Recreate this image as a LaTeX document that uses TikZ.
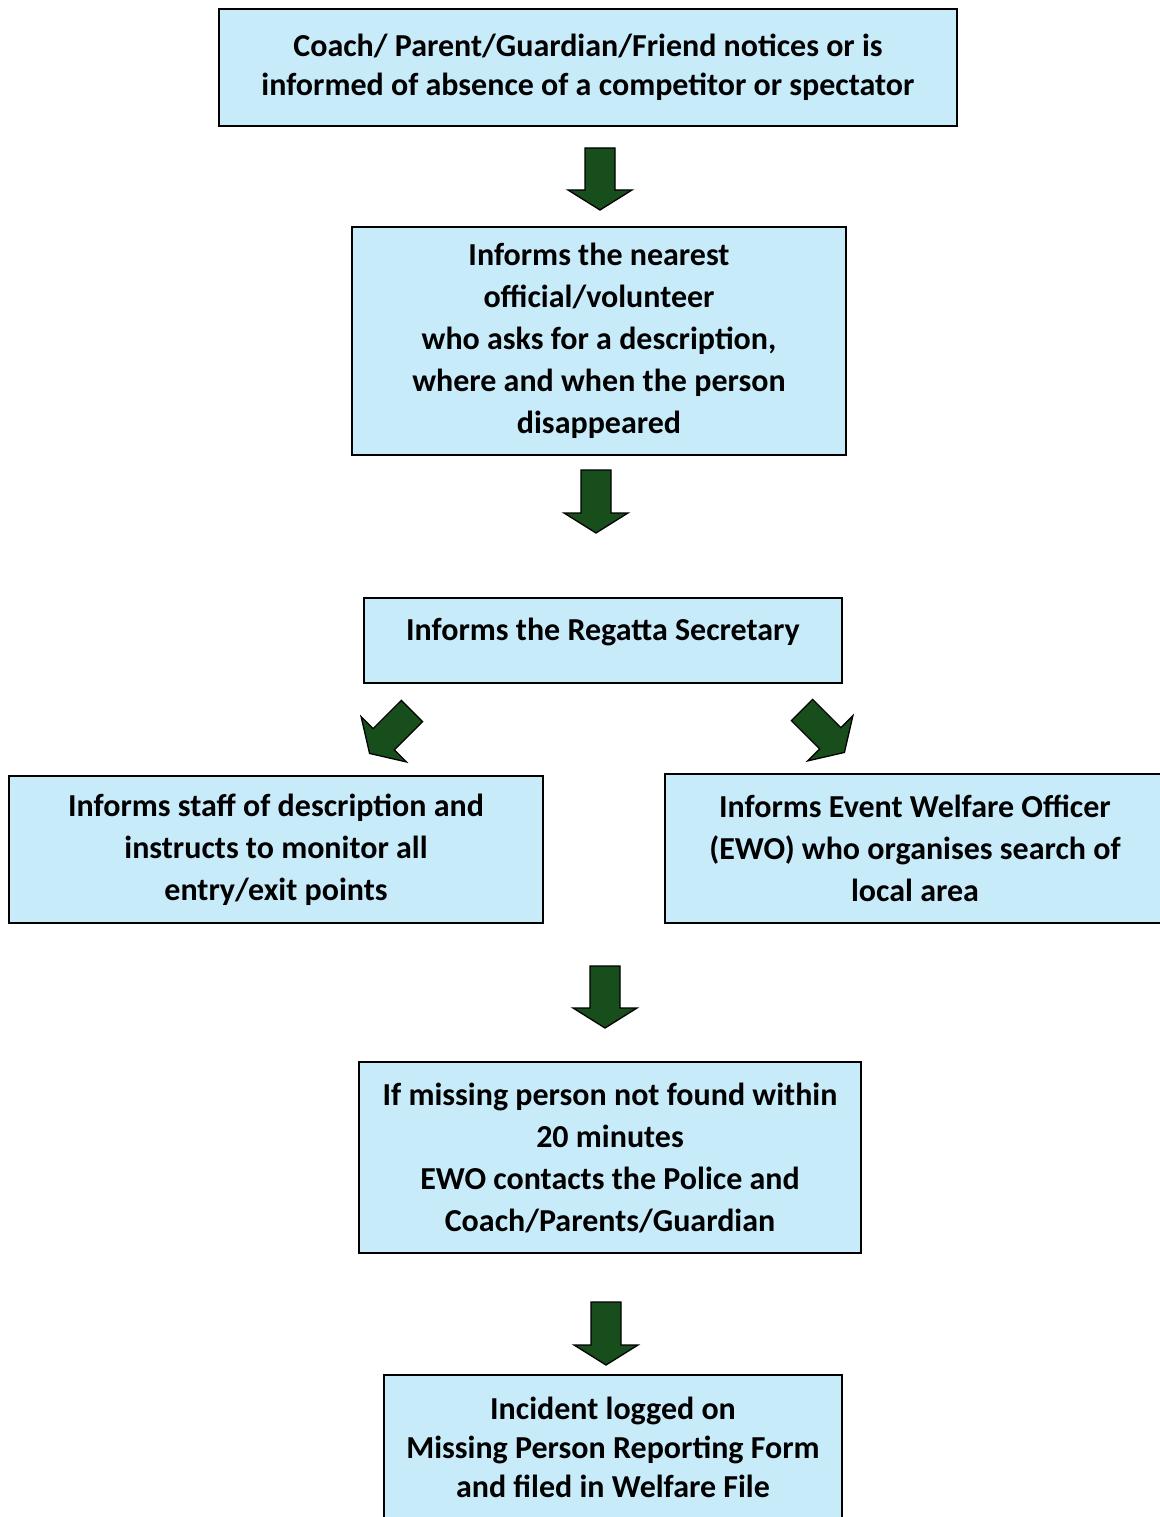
\documentclass[tikz,border=0pt]{standalone}
\usepackage{fontspec}
\setmainfont{Carlito}
\usepackage{xcolor}
\usetikzlibrary{positioning,calc}
\definecolor{boxblue}{RGB}{200,235,250}
\definecolor{arrowgreen}{RGB}{24,77,28}

% block arrow: position, rotation, shaft length
\newcommand{\blockarrow}[3]{%
	\begin{scope}[shift={(#1)},rotate=#2]
		\draw[arrowshape] (-15,0) -- (15,0) -- (15,#3) -- (32,#3) -- (0,#3+20) -- (-32,#3) -- (-15,#3) -- cycle;
	\end{scope}}

\begin{document}
\begin{tikzpicture}[
				x = 1pt, y = -1pt,
				stepbox/.style = {draw, line width = 1.6pt, fill = boxblue, align = center, inner sep = 0pt,
					font = \bfseries\fontsize{32}{42}\selectfont},
				arrowshape/.style = {draw, line width = 1.3pt, fill = arrowgreen, line join = miter}
				]
				\useasboundingbox (0,0) rectangle (1159,1517);
				
				\node [stepbox, minimum width = 738, minimum height = 117, font = \bfseries\fontsize{32}{39}\selectfont] (notice) at (588,67.5) {Coach/ Parent/Guardian/Friend notices or is\\informed of absence of a competitor or spectator};
				\node [stepbox, minimum width = 494, minimum height = 228] (official) at (599,341) {Informs the nearest\\official/volunteer\\who asks for a description,\\where and when the person\\disappeared};
				\node [stepbox, minimum width = 478, minimum height = 85, text depth = 22pt] (secretary) at (603,640.5) {Informs the Regatta Secretary};
				\node [stepbox, minimum width = 534, minimum height = 147] (staff) at (276,849.5) {Informs staff of description and\\instructs to monitor all\\entry/exit points};
				\node [stepbox, minimum width = 500, minimum height = 149] (welfare) at (915,848.5) {Informs Event Welfare Officer\\(EWO) who organises search of\\local area};
				\node [stepbox, minimum width = 502, minimum height = 191] (police) at (610,1157.5) {If missing person not found within\\20 minutes\\EWO contacts the Police and\\Coach/Parents/Guardian};
				\node [stepbox, minimum width = 458, minimum height = 145, font = \bfseries\fontsize{32}{39}\selectfont] (logged) at (613,1447.5) {Incident logged on\\Missing Person Reporting Form\\and filed in Welfare File};
				
				\blockarrow{600,148}{0}{42}
				\blockarrow{596,470}{0}{43}
				\blockarrow{412,711}{-45}{40}
				\blockarrow{802,710}{45}{40}
				\blockarrow{605,966}{0}{42}
				\blockarrow{606,1302}{0}{43}
			\end{tikzpicture}
\end{document}
